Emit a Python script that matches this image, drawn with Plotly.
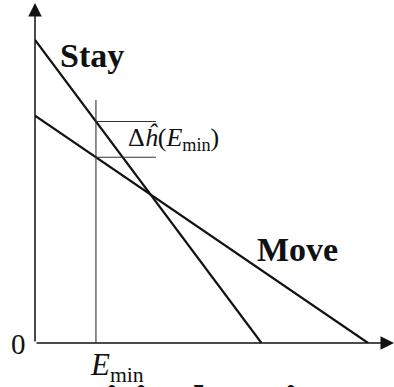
import numpy as np
import plotly.graph_objects as go

# Payoff lines: value of staying vs. moving as a function of E
STAY_E = [0.0, 0.68]
STAY_H = [1.0, 0.0]
MOVE_E = [0.0, 1.0]
MOVE_H = [0.75, 0.0]
E_MIN = 0.183

X_MAX = 1.078
Y_MAX = 1.122
FONT = "Liberation Serif"
INK = "#111111"

fig = go.Figure()
fig.add_trace(go.Scatter(x=STAY_E, y=STAY_H, mode="lines",
                         line=dict(color=INK, width=2.2), hoverinfo="skip"))
fig.add_trace(go.Scatter(x=MOVE_E, y=MOVE_H, mode="lines",
                         line=dict(color=INK, width=2.2), hoverinfo="skip"))

# Heights of both lines at E_min, used for the gap bracket
stay_at = float(np.interp(E_MIN, STAY_E, STAY_H))
move_at = float(np.interp(E_MIN, MOVE_E, MOVE_H))
bracket_end = 0.363
thin = dict(color="#333333", width=1.1)

shapes = [
    dict(type="line", xref="x", yref="y", x0=E_MIN, x1=E_MIN, y0=0, y1=0.802, line=thin),
    dict(type="line", xref="x", yref="y", x0=E_MIN, x1=bracket_end, y0=stay_at, y1=stay_at, line=thin),
    dict(type="line", xref="x", yref="y", x0=E_MIN, x1=bracket_end, y0=move_at, y1=move_at, line=thin),
]

annotations = [
    # axes with arrowheads
    dict(x=X_MAX, y=0, ax=0, ay=0, xref="x", yref="y", axref="x", ayref="y",
         text="", showarrow=True, arrowhead=2, arrowsize=1.8, arrowwidth=1.5, arrowcolor=INK),
    dict(x=0, y=Y_MAX, ax=0, ay=0, xref="x", yref="y", axref="x", ayref="y",
         text="", showarrow=True, arrowhead=2, arrowsize=1.8, arrowwidth=1.5, arrowcolor=INK),
    dict(x=0.171, y=0.95, xref="x", yref="y", text="<b>Stay</b>", showarrow=False,
         font=dict(family=FONT, size=34, color=INK)),
    dict(x=0.787, y=0.31, xref="x", yref="y", text="<b>Move</b>", showarrow=False,
         font=dict(family=FONT, size=34, color=INK)),
    dict(x=0.274, y=(stay_at + move_at) / 2, xref="x", yref="y", xanchor="left",
         text="Δ<i>ĥ</i>(<i>E</i><sub>min</sub>)", showarrow=False,
         font=dict(family=FONT, size=26, color=INK)),
    # labels below / left of the plotting area
    dict(x=-0.072, y=-0.056, xref="paper", yref="paper", text="0", showarrow=False,
         font=dict(family=FONT, size=29, color=INK)),
    dict(x=0.148, y=-0.005, xref="paper", yref="paper", xanchor="left", yanchor="top",
         text="<i>E</i><sub>min</sub>", showarrow=False,
         font=dict(family=FONT, size=31, color=INK)),
    dict(x=0.033, y=-0.092, xref="paper", yref="paper", xanchor="left", yanchor="top",
         text="<b>Critical region E</b>", showarrow=False,
         font=dict(family=FONT, size=48, color=INK)),
]

axis_common = dict(showgrid=False, zeroline=False, showline=False,
                   showticklabels=False, ticks="", fixedrange=True)
fig.update_layout(
    width=394, height=387,
    margin=dict(l=35, r=0, t=3, b=44),
    paper_bgcolor="white", plot_bgcolor="white",
    showlegend=False,
    xaxis=dict(range=[0, X_MAX], **axis_common),
    yaxis=dict(range=[0, Y_MAX], **axis_common),
    shapes=shapes,
    annotations=annotations,
)

fig.write_html("out.html")
